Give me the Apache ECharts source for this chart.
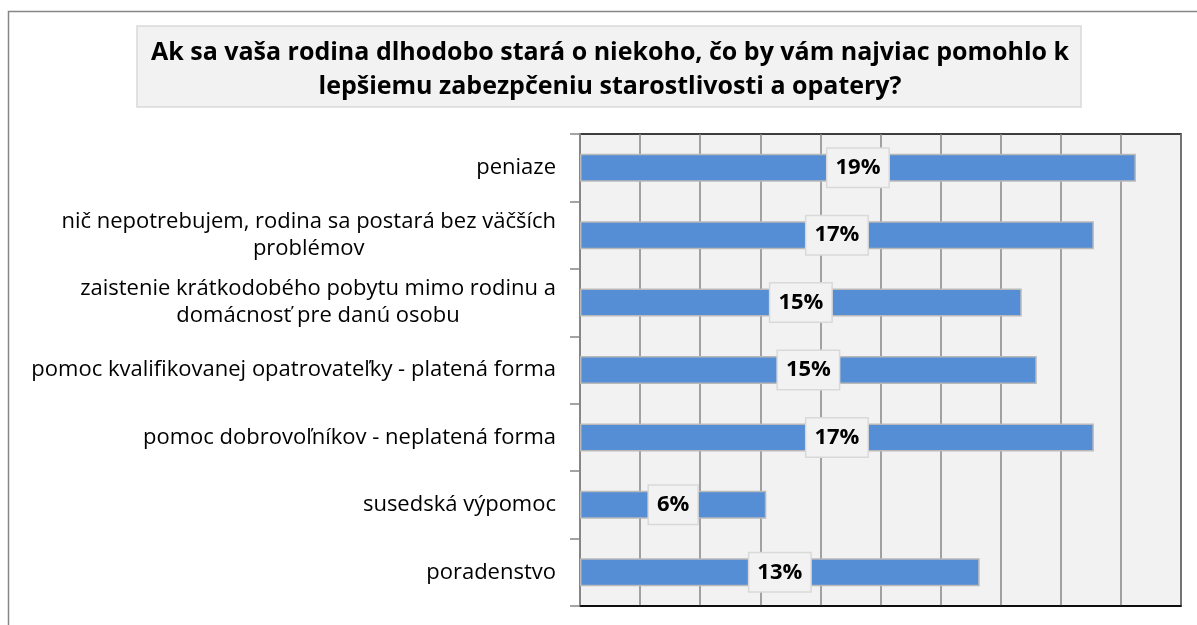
<!DOCTYPE html>
<html lang="sk">
<head>
    <meta charset="UTF-8">
    <title>Dlhodobá starostlivosť</title>
    <style>
        html, body { margin: 0; padding: 0; background: #fff; }
        #main { width: 1197px; height: 625px; }
    </style>
</head>
<body>
    <div id="main"></div>
    <script src="https://cdn.jsdelivr.net/npm/echarts@6/dist/echarts.min.js"></script>
    <script>
        // data (percent)
        var categories = [
            'peniaze',
            'nič nepotrebujem, rodina sa postará bez väčších\nproblémov',
            'zaistenie krátkodobého pobytu mimo rodinu a\ndomácnosť pre danú osobu',
            'pomoc kvalifikovanej opatrovateľky - platená forma',
            'pomoc dobrovoľníkov - neplatená forma',
            'susedská výpomoc',
            'poradenstvo'
        ];
        var values = [18.5, 17.1, 14.7, 15.2, 17.1, 6.2, 13.3];
        var titleText = 'Ak sa vaša rodina dlhodobo stará o niekoho, čo by vám najviac pomohlo k\nlepšiemu zabezpčeniu starostlivosti a opatery?';

        var font = '"Open Sans", "DejaVu Sans", sans-serif';
        var myChart = echarts.init(document.getElementById('main'));

        var option = {
            animation: false,
            backgroundColor: '#fff',
            graphic: [
                {
                    type: 'rect', silent: true, z: -1,
                    shape: { x: 8.5, y: 11.5, width: 1250, height: 700 },
                    style: { fill: 'none', stroke: '#868686', lineWidth: 1.5 }
                },
                {
                    type: 'rect', silent: true,
                    shape: { x: 137, y: 26, width: 944, height: 81 },
                    style: { fill: '#f2f2f2', stroke: '#d9d9d9', lineWidth: 1.5 }
                },
                {
                    type: 'text', silent: true,
                    x: 610, y: 70,
                    style: {
                        text: titleText,
                        fill: '#000',
                        font: 'bold 25px ' + font,
                        lineHeight: 34,
                        align: 'center',
                        verticalAlign: 'middle'
                    }
                }
            ],
            grid: {
                left: 580, right: 16, top: 134, bottom: 19,
                show: true,
                backgroundColor: '#f2f2f2',
                borderColor: '#000',
                borderWidth: 1.5
            },
            xAxis: {
                type: 'value',
                min: 0, max: 20, interval: 2,
                axisLine: { show: true, lineStyle: { color: '#000', width: 1.5 } },
                axisTick: { show: false },
                axisLabel: { show: false },
                splitLine: { show: true, lineStyle: { color: '#868686', width: 1.5 } }
            },
            yAxis: {
                type: 'category',
                data: categories,
                inverse: true,
                axisLine: { show: true, lineStyle: { color: '#868686', width: 2 } },
                axisTick: { show: true, length: 10, lineStyle: { color: '#868686', width: 1.5 } },
                axisLabel: {
                    margin: 24,
                    color: '#000',
                    fontFamily: font,
                    fontSize: 22,
                    lineHeight: 27,
                    formatter: function (v) {
                        if (v.indexOf('\n') < 0) return v;
                        return v.split('\n').map(function (l) { return '{c|' + l + '}'; }).join('\n');
                    },
                    rich: {
                        c: { align: 'center', color: '#000', fontFamily: font, fontSize: 22, lineHeight: 27 }
                    }
                }
            },
            series: [{
                type: 'bar',
                data: values,
                barWidth: 28,
                itemStyle: { color: '#558ed5', borderColor: '#b9b9b9', borderWidth: 1.5 },
                label: {
                    show: true,
                    position: 'inside',
                    formatter: function (p) { return Math.round(p.value) + '%'; },
                    color: '#000',
                    fontFamily: font,
                    fontWeight: 'bold',
                    fontSize: 22,
                    lineHeight: 22,
                    backgroundColor: '#f2f2f2',
                    borderColor: '#d9d9d9',
                    borderWidth: 1.5,
                    padding: [8, 8]
                }
            }]
        };
        myChart.setOption(option);
    </script>
</body>
</html>
